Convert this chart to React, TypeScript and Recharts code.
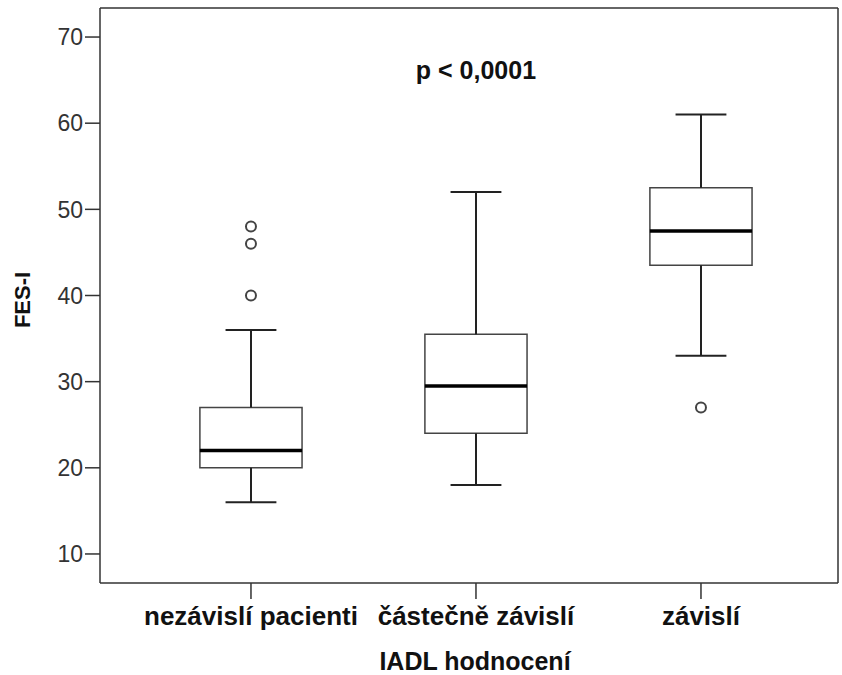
import { ComposedChart, XAxis, YAxis, Scatter, ReferenceArea, ReferenceLine, ReferenceDot, Label } from "recharts";

const groups = ["nezávislí pacienti", "částečně závislí", "závislí"];
const whiskerLow = [16, 18, 33];
const q1 = [20, 24, 43.5];
const median = [22, 29.5, 47.5];
const q3 = [27, 35.5, 52.5];
const whiskerHigh = [36, 52, 61];
const outliers = [[40, 46, 48], [], [27]];
const yTicks = [10, 20, 30, 40, 50, 60, 70];

const X_DOMAIN: [number, number] = [0.329, 3.609];
const Y_DOMAIN: [number, number] = [6.63, 73.37];
const BOX_HALF = 0.227;
const CAP_HALF = 0.113;
const FONT = '"Liberation Sans", Arial, sans-serif';
const INK = "#333";

const outlierPoints = outliers.flatMap((vals, i) => vals.map((v) => ({ x: i + 1, y: v })));

const OutlierDot = (props: any) => (
  <circle cx={props.cx} cy={props.cy} r={5} fill="#fff" stroke="#444" strokeWidth={2} />
);

const App = () => {
  return (
    <div style={{ position: "absolute", left: 0, top: 0, background: "#fff" }}>
      <ComposedChart width={842} height={675} margin={{ top: 8, right: 4, bottom: 0, left: 0 }}>
        <XAxis
          type="number"
          dataKey="x"
          domain={X_DOMAIN}
          allowDataOverflow
          ticks={[1, 2, 3]}
          tickFormatter={(v) => groups[v - 1] ?? ""}
          height={92}
          tickSize={16}
          tickMargin={8}
          axisLine={{ stroke: INK, strokeWidth: 1.5 }}
          tickLine={{ stroke: INK, strokeWidth: 1.5 }}
          tick={{ fill: "#111", fontSize: 26, fontWeight: 700, fontFamily: FONT }}
          label={{
            content: () => (
              <text x={475} y={661} textAnchor="middle" dominantBaseline="central" fill="#111" fontSize={25} fontWeight={700} fontFamily={FONT}>
                IADL hodnocení
              </text>
            ),
          }}
        />
        <YAxis
          type="number"
          dataKey="y"
          domain={Y_DOMAIN}
          allowDataOverflow
          ticks={yTicks}
          width={100}
          tickSize={15}
          tickMargin={2}
          axisLine={{ stroke: INK, strokeWidth: 1.5 }}
          tickLine={{ stroke: INK, strokeWidth: 1.5 }}
          tick={{ fill: "#333", fontSize: 23, fontFamily: FONT }}
          label={{
            content: () => (
              <text x={22} y={300} transform="rotate(-90 22 300)" textAnchor="middle" dominantBaseline="central" fill="#111" fontSize={22} fontWeight={700} fontFamily={FONT}>
                FES-I
              </text>
            ),
          }}
        />

        {/* frame */}
        <ReferenceLine y={Y_DOMAIN[1]} stroke={INK} strokeWidth={1.5} ifOverflow="visible" />
        <ReferenceLine x={X_DOMAIN[1]} stroke={INK} strokeWidth={1.5} ifOverflow="visible" />

        {groups.map((g, i) => {
          const c = i + 1;
          return [
            <ReferenceLine key={g + "wl"} segment={[{ x: c, y: whiskerLow[i] }, { x: c, y: q1[i] }]} stroke="#222" strokeWidth={2} />,
            <ReferenceLine key={g + "wh"} segment={[{ x: c, y: q3[i] }, { x: c, y: whiskerHigh[i] }]} stroke="#222" strokeWidth={2} />,
            <ReferenceLine key={g + "cl"} segment={[{ x: c - CAP_HALF, y: whiskerLow[i] }, { x: c + CAP_HALF, y: whiskerLow[i] }]} stroke="#222" strokeWidth={2} />,
            <ReferenceLine key={g + "ch"} segment={[{ x: c - CAP_HALF, y: whiskerHigh[i] }, { x: c + CAP_HALF, y: whiskerHigh[i] }]} stroke="#222" strokeWidth={2} />,
            <ReferenceArea key={g + "box"} x1={c - BOX_HALF} x2={c + BOX_HALF} y1={q1[i]} y2={q3[i]} fill="#fff" fillOpacity={1} stroke="#444" strokeWidth={1.5} />,
            <ReferenceLine key={g + "med"} segment={[{ x: c - BOX_HALF, y: median[i] }, { x: c + BOX_HALF, y: median[i] }]} stroke="#000" strokeWidth={3.5} />,
          ];
        })}

        <Scatter data={outlierPoints} shape={<OutlierDot />} isAnimationActive={false} />

        <ReferenceDot x={2} y={66.2} r={0} fill="none" stroke="none" ifOverflow="visible">
          <Label position="center" fill="#111" fontSize={25} fontWeight={700} fontFamily={FONT} value="p < 0,0001" />
        </ReferenceDot>
      </ComposedChart>
    </div>
  );
};

export default App;
